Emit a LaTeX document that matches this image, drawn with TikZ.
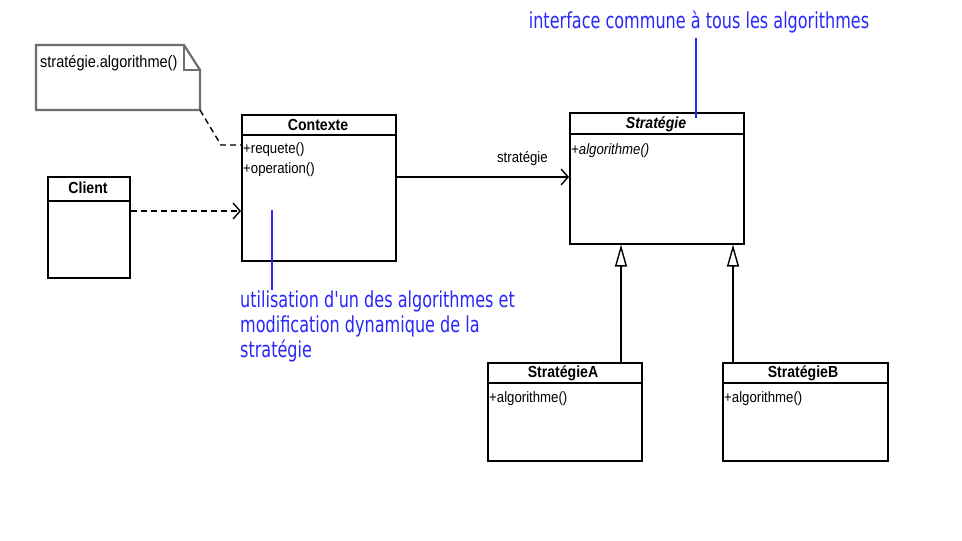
\documentclass[tikz,border=0pt]{standalone}
\usepackage{fontspec}
\setmainfont{Liberation Sans}[FakeStretch=0.88]
\newfontfamily\hand{DejaVu Sans}[FakeStretch=0.73]
\usetikzlibrary{arrows.meta}
\definecolor{handblue}{RGB}{40,40,250}
\definecolor{notegray}{RGB}{110,110,110}
\tikzset{
  cls/.style={draw=black, line width=1.6pt, fill=white, rectangle, inner sep=0pt, anchor=north west},
  sep/.style={draw=black, line width=1.6pt},
  title/.style={font=\fontsize{16}{18}\selectfont\bfseries, inner sep=0pt},
  member/.style={font=\fontsize{15}{17}\selectfont, inner sep=0pt, anchor=west},
  conn/.style={draw=black, line width=1.4pt},
  dep/.style={conn, dashed, dash pattern=on 6pt off 4pt},
  openarrow/.style={-{Straight Barb[length=7pt,width=16pt,line width=1.4pt]}},
  inherit/.style={-{Triangle[open,length=22pt,width=12pt,line width=1.4pt]}},
  comment/.style={handblue, font=\hand\fontsize{22}{25}\selectfont, inner sep=0pt},
  commentline/.style={draw=handblue, line width=1.5pt},
}
\begin{document}
\begin{tikzpicture}[x=1pt,y=-1pt]
\useasboundingbox[fill=white] (0,0) rectangle (962,541);

% note
\draw[notegray, line width=2.2pt, fill=white]
  (36,45) -- (184,45) -- (200,70) -- (200,110) -- (36,110) -- cycle;
\draw[notegray, line width=1.6pt] (184,45) -- (184,70) -- (200,70);
\coordinate (notecorner) at (200,110);
\node[member, font=\fontsize{16.5}{18}\selectfont] (notetext) at (40,63) {stratégie.algorithme()};

% Contexte
\node[cls, minimum width=154pt, minimum height=146pt] (ctx) at (241,114) {};
\draw[sep] ([yshift=-21pt]ctx.north west) -- ([yshift=-21pt]ctx.north east);
\node[title] (ctxt) at (318,124.5) {Contexte};
\node[member] (ctxm1) at (243,150) {+requete()};
\node[member] (ctxm2) at (243,170) {+operation()};

% Client
\node[cls, minimum width=82pt, minimum height=101pt] (cli) at (47,176) {};
\draw[sep] ([yshift=-25pt]cli.north west) -- ([yshift=-25pt]cli.north east);
\node[title] (clit) at (88,188) {Client};

% Strategie
\node[cls, minimum width=174pt, minimum height=131pt] (str) at (569,112) {};
\draw[sep] ([yshift=-22pt]str.north west) -- ([yshift=-22pt]str.north east);
\node[title, font=\fontsize{16}{18}\selectfont\bfseries\itshape] (strt) at (656,124) {Stratégie};
\node[member, font=\fontsize{15}{17}\selectfont\itshape] (strm) at (571,151) {+algorithme()};

% StrategieA
\node[cls, minimum width=154pt, minimum height=98pt] (sa) at (487,362) {};
\draw[sep] ([yshift=-21pt]sa.north west) -- ([yshift=-21pt]sa.north east);
\node[title] (sat) at (563,373) {StratégieA};
\node[member] (sam) at (489,399) {+algorithme()};

% StrategieB
\node[cls, minimum width=165pt, minimum height=98pt] (sb) at (722,362) {};
\draw[sep] ([yshift=-21pt]sb.north west) -- ([yshift=-21pt]sb.north east);
\node[title] (sbt) at (803,373) {StratégieB};
\node[member] (sbm) at (724,399) {+algorithme()};

% connectors
\coordinate (noteelbow) at (221,145);
\draw[dep] (notecorner) -- (noteelbow) -- (noteelbow -| ctx.west);
\draw[dep, openarrow] (cli.east |- 0,211) -- (ctx.west |- 0,211);
\draw[conn, openarrow] (ctx.east |- 0,177) -- (str.west |- 0,177)
  node[pos=0.73, above=11pt, font=\fontsize{15}{17}\selectfont, inner sep=0pt] (assoclbl) {stratégie};
\draw[conn, inherit] (sa.north -| 621,0) -- (str.south -| 621,0);
\draw[conn, inherit] (sb.north -| 733,0) -- (str.south -| 733,0);

% comments
\node[comment] (c1) at (699,22) {interface commune à tous les algorithmes};
\coordinate (c1a) at (696,38);
\draw[commentline] (c1a) -- (696,118);
\node[comment, anchor=north west, align=left] (c2) at (240,291) {utilisation d'un des algorithmes et\\modification dynamique de la\\stratégie};
\coordinate (c2a) at (272,210);
\draw[commentline] (c2a) -- (272,290);
\end{tikzpicture}
\end{document}
